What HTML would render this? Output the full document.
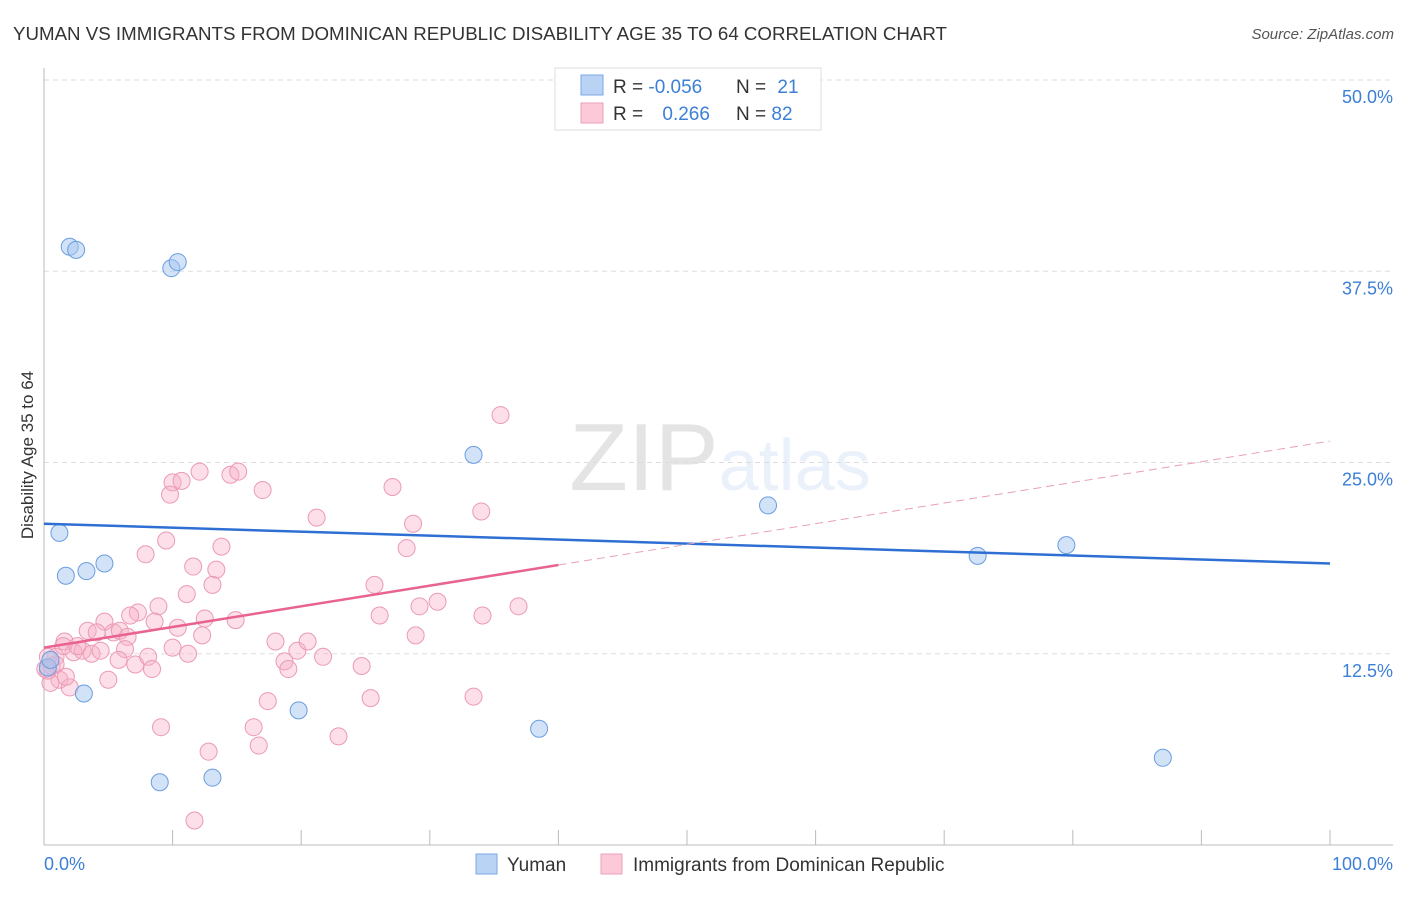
<!DOCTYPE html>
<html><head><meta charset="utf-8"><style>
body{margin:0;background:#fff;font-family:"Liberation Sans",sans-serif;}
svg text{font-family:"Liberation Sans",sans-serif;}
</style></head><body>
<svg id="chart" width="1406" height="892" viewBox="0 0 1406 892" xmlns="http://www.w3.org/2000/svg">
<text x="13" y="40" font-size="18" fill="#333" textLength="934" lengthAdjust="spacingAndGlyphs">YUMAN VS IMMIGRANTS FROM DOMINICAN REPUBLIC DISABILITY AGE 35 TO 64 CORRELATION CHART</text>
<text x="1394" y="39" font-size="15" fill="#555" text-anchor="end" font-style="italic">Source: ZipAtlas.com</text>
<text x="720" y="490" font-size="96" text-anchor="middle" fill="#000" opacity="0.1" font-family="Liberation Serif">ZIP<tspan fill="#3c7fd6" opacity="1" font-family="Liberation Sans" font-size="72">atlas</tspan></text>
<g id="grid"></g><g id="axes"></g><g id="marks"></g>
<text transform="translate(33,455) rotate(-90)" font-size="17" fill="#333" text-anchor="middle">Disability Age 35 to 64</text>
<text x="44" y="870" font-size="18" fill="#3c7fd6">0.0%</text>
<text x="1393" y="870" font-size="18" fill="#3c7fd6" text-anchor="end">100.0%</text>
<g>
<rect x="555" y="68" width="266" height="62" fill="#fff" stroke="#ddd"/>
<rect x="581" y="75" width="22" height="20" fill="#b8d3f4" stroke="#7aa9e6"/>
<rect x="581" y="103" width="22" height="20" fill="#fcc9d8" stroke="#ee9fb9"/>
<text x="613" y="93" font-size="19" fill="#333">R = <tspan fill="#3c7fd6">-0.056</tspan></text>
<text x="736" y="93" font-size="19" fill="#333">N = <tspan fill="#3c7fd6" dx="6">21</tspan></text>
<text x="613" y="120" font-size="19" fill="#333">R = <tspan fill="#3c7fd6" dx="14">0.266</tspan></text>
<text x="736" y="120" font-size="19" fill="#333">N = <tspan fill="#3c7fd6">82</tspan></text>
</g>
<g><rect x="476" y="854" width="21" height="20" fill="#b8d3f4" stroke="#7aa9e6"/><text x="507" y="871" font-size="19" fill="#333">Yuman</text></g>
<g><rect x="601" y="854" width="21" height="20" fill="#fcc9d8" stroke="#ee9fb9"/><text x="633" y="871" font-size="19" fill="#333">Immigrants from Dominican Republic</text></g>
</svg>
<script>
const yTicks=[12.5,25,37.5,50];
const xTicks=[0,10,20,30,40,50,60,70,80,90,100];
const blueX=[2.0,2.5,9.9,10.4,1.2,1.7,3.3,4.7,3.1,33.4,19.8,38.5,9.0,13.1,56.3,72.6,79.5,87.0,0.3,0.5,51.2];
const blueY=[39.1,38.9,37.7,38.1,20.4,17.6,17.9,18.4,9.9,25.5,8.8,7.6,4.1,4.4,22.2,18.9,19.6,5.7,11.6,12.1,48.5];
const pinkX=[12.1,10.0,10.7,9.8,14.5,15.1,17.0,21.2,9.5,7.9,13.8,11.6,13.4,13.1,11.1,8.9,7.3,6.7,8.6,10.4,12.5,14.9,12.3,3.4,4.7,4.1,5.4,5.9,6.5,1.6,2.3,3.0,3.7,4.4,6.3,5.8,7.1,8.1,8.4,10.0,11.2,0.6,0.9,1.2,2.0,5.0,18.0,18.7,19.0,19.7,20.5,21.7,17.4,16.3,16.7,9.1,12.8,11.7,0.5,1.5,2.6,35.5,27.1,34.0,28.7,28.2,25.7,30.6,29.2,36.9,26.1,34.1,28.9,24.7,25.4,33.4,22.9,0.9,0.1,0.3,0.3,1.7];
const pinkY=[24.4,23.7,23.8,22.9,24.2,24.4,23.2,21.4,19.9,19.0,19.5,18.2,18.0,17.0,16.4,15.6,15.2,15.0,14.6,14.2,14.8,14.7,13.7,14.0,14.6,13.9,13.9,14.0,13.6,13.3,12.6,12.7,12.5,12.7,12.8,12.1,11.8,12.3,11.5,12.9,12.5,11.7,12.3,10.8,10.3,10.8,13.3,12.0,11.5,12.7,13.3,12.3,9.4,7.7,6.5,7.7,6.1,1.6,10.6,13.0,13.0,28.1,23.4,21.8,21.0,19.4,17.0,15.9,15.6,15.6,15.0,15.0,13.7,11.7,9.6,9.7,7.1,11.8,11.5,12.3,11.4,11.0];
const blueTrend=[21.0,18.4];
const pinkTrend=[12.9,26.4];
const pinkSolidEnd=40;
const NS="http://www.w3.org/2000/svg";
const X=v=>44+v*12.86, Y=v=>845-v*15.3;
function mk(t,a,p){const e=document.createElementNS(NS,t);for(const k in a)e.setAttribute(k,a[k]);document.getElementById(p).appendChild(e);return e;}
yTicks.forEach(t=>{
 const l=mk('line',{x1:44,x2:1393,y1:Y(t),y2:Y(t),stroke:'#ddd','stroke-dasharray':'5,4'},'grid');
 
 
 const tx=mk('text',{x:1393,y:Y(t)+23,'font-size':18,fill:'#3c7fd6','text-anchor':'end'},'grid');
 tx.textContent=t.toFixed(1)+'%';
 
 
});
const ya=mk('line',{x1:44,x2:44,y1:68,y2:845,stroke:'#bbb'},'axes');


const xa=mk('line',{x1:44,x2:1393,y1:845,y2:845,stroke:'#bbb'},'axes');


xTicks.forEach(t=>{const l=mk('line',{x1:X(t),x2:X(t),y1:830,y2:845,stroke:'#bbb'},'axes');
 
 });
pinkX.forEach((v,i)=>{const c=mk('circle',{cx:X(v),cy:Y(pinkY[i]),r:8.5,fill:'rgba(248,175,198,0.4)',stroke:'#eb9ab5','stroke-width':1},'marks');
 
 });
blueX.forEach((v,i)=>{const c=mk('circle',{cx:X(v),cy:Y(blueY[i]),r:8.5,fill:'rgba(165,200,242,0.5)',stroke:'#6a9de0','stroke-width':1},'marks');
 
 });
const pAt=x=>pinkTrend[0]+(pinkTrend[1]-pinkTrend[0])*x/100;
const bt=mk('line',{x1:X(0),y1:Y(blueTrend[0]),x2:X(100),y2:Y(blueTrend[1]),stroke:'#2f6fd3','stroke-width':2.5},'marks');


const ps=mk('line',{x1:X(0),y1:Y(pAt(0)),x2:X(pinkSolidEnd),y2:Y(pAt(pinkSolidEnd)),stroke:'#e8638f','stroke-width':2.5},'marks');


const pd=mk('line',{x1:X(pinkSolidEnd),y1:Y(pAt(pinkSolidEnd)),x2:X(100),y2:Y(pAt(100)),stroke:'#e8a0b8','stroke-width':1,'stroke-dasharray':'8,5'},'marks');


</script>
</body></html>
